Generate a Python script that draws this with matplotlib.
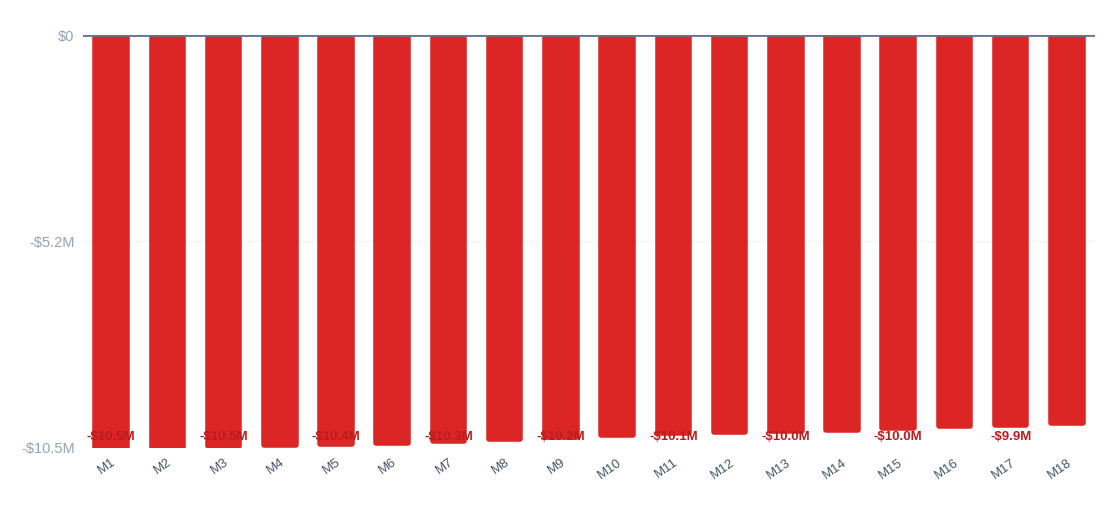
import numpy as np
import matplotlib.pyplot as plt

plt.rcParams['font.family'] = ['Liberation Sans', 'DejaVu Sans']

months = ['M%d' % i for i in range(1, 19)]
values = [-10.50, -10.50, -10.45, -10.42, -10.40, -10.37, -10.33, -10.28, -10.22,
          -10.18, -10.13, -10.10, -10.08, -10.03, -10.00, -9.95, -9.92, -9.87]
labels = ['-$10.5M', '', '-$10.5M', '', '-$10.4M', '', '-$10.3M', '', '-$10.2M',
          '', '-$10.1M', '', '-$10.0M', '', '-$10.0M', '', '-$9.9M', '']

fig = plt.figure(figsize=(11.2, 5.31), dpi=100)
ax = fig.add_axes([83 / 1120, 1 - 448 / 531, (1095 - 83) / 1120, (448 - 35) / 531])

x = np.arange(len(months))
red = '#dc2626'
ax.bar(x, values, width=0.56, color=red, edgecolor=red, linewidth=4,
       joinstyle='round', zorder=2)
for xi, lab in zip(x, labels):
    if lab:
        ax.text(xi, -10.22, lab, ha='center', va='center', color='#b91c1c',
                fontsize=9.5, fontweight='bold', zorder=3)

ax.axhline(0, color='#64748b', linewidth=2, zorder=3)
ax.axhline(-5.25, color='#f1f5f9', linewidth=1, zorder=1)
ax.axhline(-10.5, color='#f1f5f9', linewidth=1, zorder=1)
ax.set_ylim(-10.5, 0)
ax.set_xlim(-0.5, len(months) - 0.5)
ax.set_yticks([0, -5.25, -10.5])
ax.set_yticklabels(['$0', '-$5.2M', '-$10.5M'], color='#94a3b8', fontsize=10.5)
ax.set_xticks(x)
ax.set_xticklabels(months, rotation=35, ha='right', rotation_mode='anchor',
                   color='#475569', fontsize=9.5)
ax.tick_params(length=0, pad=6)
for s in ax.spines.values():
    s.set_visible(False)

plt.savefig('out.png', dpi=100)
